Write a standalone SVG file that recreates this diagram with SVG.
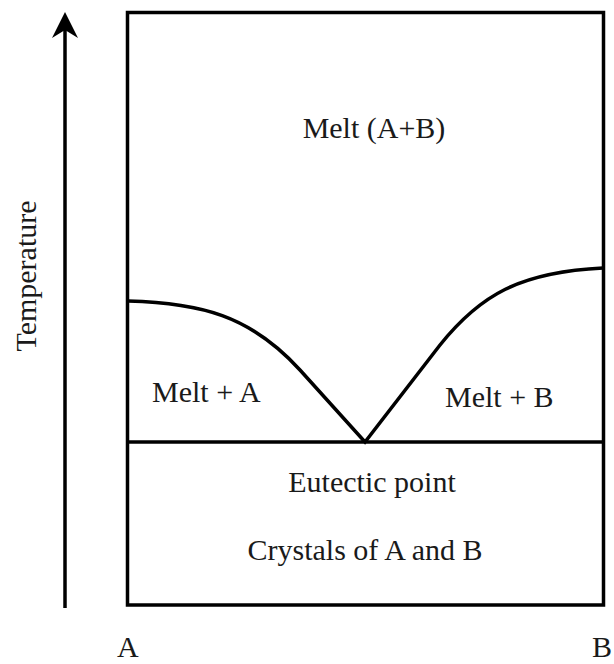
<svg xmlns="http://www.w3.org/2000/svg" width="614" height="664" viewBox="0 0 614 664">
<style>
text{font-family:"Liberation Serif","Times New Roman",serif;font-size:30px;fill:#1a1a1a}
.ln{fill:none;stroke:#000;stroke-width:3.5}
</style>
<rect width="614" height="664" fill="#fff"/>
<g id="axis">
<line class="ln" x1="65" y1="608" x2="65" y2="24"/>
<path d="M65,12 L78,38 L65,30 L52,38 Z" fill="#000"/>
<text transform="translate(36,276) rotate(-90)" text-anchor="middle">Temperature</text>
</g>
<g id="frame">
<rect class="ln" x="127.5" y="12.5" width="476" height="592.5"/>
</g>
<g id="connectors">
<path class="ln" d="M128,301 C200,303 250,315 300,370 L365,442 L440,345 C480,295 520,272 603,268"/>
<line class="ln" x1="127" y1="442" x2="604" y2="442"/>
</g>
<g id="melt"><text x="374" y="138" text-anchor="middle">Melt (A+B)</text></g>
<g id="meltA"><text x="152" y="402">Melt + A</text></g>
<g id="meltB"><text x="445" y="407">Melt + B</text></g>
<g id="eutectic"><text x="372" y="492" text-anchor="middle">Eutectic point</text></g>
<g id="crystals"><text x="365" y="560" text-anchor="middle">Crystals of A and B</text></g>
<g id="labelA"><text x="117" y="657">A</text></g>
<g id="labelB"><text x="592" y="657">B</text></g>
</svg>
